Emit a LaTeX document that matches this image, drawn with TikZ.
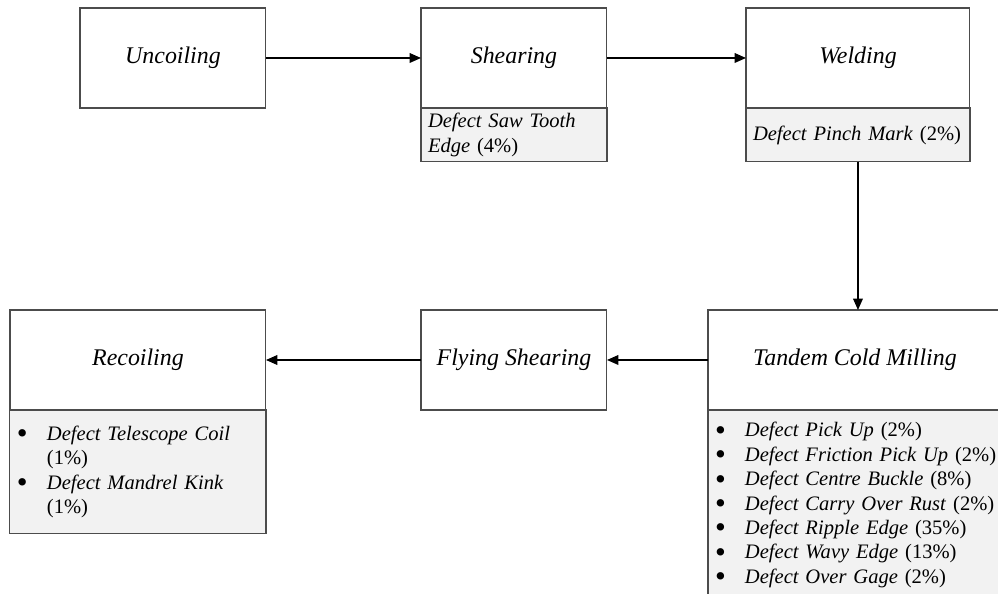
\documentclass[tikz,border=0pt]{standalone}
\usepackage{fontspec}
\setmainfont{Liberation Serif}
\usetikzlibrary{arrows.meta,positioning}
\tikzset{
  stage/.style={draw=black!70, line width=0.6pt, fill=white, outer sep=0pt, inner sep=0pt,
                minimum width=#1, minimum height=2cm, anchor=north west,
                font=\fontsize{13.6}{16}\selectfont\itshape},
  stage/.default=3.72cm,
  defect/.style={draw=black!70, line width=0.6pt, fill=gray!10, outer sep=0pt,
                 inner xsep=4pt, inner ysep=0pt, align=left, text width=#1,
                 font=\fontsize{11.7}{13.9}\selectfont},
  defect/.default=3.44cm,
  flow/.style={-{Triangle[length=6.5pt,width=5.5pt]}, line width=0.85pt},
}
\newcommand{\dfbullet}{\makebox[0.6cm][l]{\smash{\raisebox{-0.17em}{\scalebox{1.5}{\textbullet}}}}}
\newcommand{\dfitem}[2]{\dfbullet\textit{Defect #1} (#2\%)}

\begin{document}
\begin{tikzpicture}[x=0.02cm, y=-0.02cm, node distance=0pt]
  \useasboundingbox (0,0) rectangle (998,594);
  \node[stage] (uncoil) at (80,8) {Uncoiling};
  \node[stage] (shear) at (421,8) {Shearing};
  \node[stage=4.48cm] (weld) at (746,8) {Welding};
  \node[stage=6.2cm] (tandem) at (708,310) {\hspace*{-0.32cm}Tandem Cold Milling};
  \node[stage] (flyshear) at (421,310) {Flying Shearing};
  \node[stage=5.12cm] (recoil) at (10,310) {Recoiling};

  \node[defect, minimum height=1.08cm, below=of shear] (shdef)
    {\textit{Defect Saw Tooth}\\\textit{Edge} (4\%)};
  \node[defect=4.2cm, minimum height=1.08cm, below=of weld] (wedef)
    {\textit{Defect Pinch Mark} (2\%)};
  \node[defect=5.92cm, minimum height=3.8cm, below=of tandem] (tadef)
    {\dfitem{Pick Up}{2}\\ \dfitem{Friction Pick Up}{2}\\ \dfitem{Centre Buckle}{8}\\
     \dfitem{Carry Over Rust}{2}\\ \dfitem{Ripple Edge}{35}\\ \dfitem{Wavy Edge}{13}\\
     \dfitem{Over Gage}{2}};
  \node[defect=4.84cm, minimum height=2.48cm, below=of recoil] (redef)
    {\dfbullet\textit{Defect Telescope Coil}\\ \hspace*{0.6cm}(1\%)\\
     \dfbullet\textit{Defect Mandrel Kink}\\ \hspace*{0.6cm}(1\%)};

  \draw[flow] (uncoil) -- (shear);
  \draw[flow] (shear) -- (weld);
  \draw[flow] (wedef.south) -- (wedef.south |- tandem.north);
  \draw[flow] (tandem) -- (flyshear);
  \draw[flow] (flyshear) -- (recoil);
\end{tikzpicture}
\end{document}
